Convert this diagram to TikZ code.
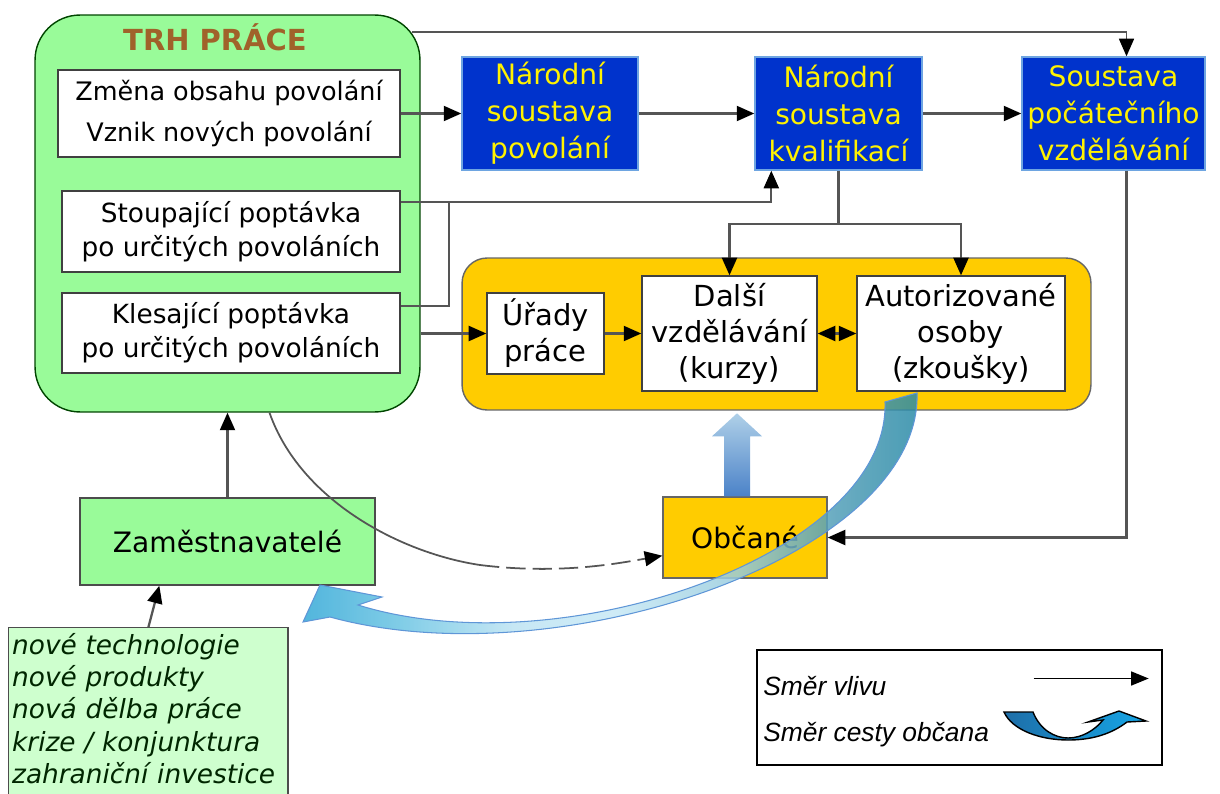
\documentclass[tikz,border=0pt]{standalone}
\usepackage{fontspec}
\setmainfont{DejaVu Sans}
\newfontfamily\legfont{Liberation Sans}
\usetikzlibrary{arrows.meta,calc,positioning}

\definecolor{trhgreen}{RGB}{153,251,153}
\definecolor{palegreen}{RGB}{206,255,206}
\definecolor{narblue}{RGB}{0,51,204}
\definecolor{narborder}{RGB}{110,165,225}
\definecolor{gold}{RGB}{255,204,0}
\definecolor{titlebrown}{RGB}{160,98,42}
\definecolor{linegray}{RGB}{85,85,85}

\pgfdeclarehorizontalshading{citizenpath}{100bp}{
    rgb(0bp)=(0.20,0.66,0.84);
    rgb(25bp)=(0.20,0.66,0.84);
    rgb(33bp)=(0.42,0.77,0.89);
    rgb(42bp)=(0.74,0.89,0.95);
    rgb(50bp)=(0.78,0.91,0.96);
    rgb(60bp)=(0.60,0.80,0.87);
    rgb(68bp)=(0.32,0.62,0.72);
    rgb(75bp)=(0.16,0.54,0.65);
    rgb(100bp)=(0.16,0.54,0.65)}

\begin{document}
\begin{tikzpicture}[x=0.02cm, y=-0.02cm,
    arrowtip/.style={-{Triangle[length=10pt,width=8.5pt,color=black]}},
    conn/.style={draw=linegray, line width=1.3pt, arrowtip},
    whitebox/.style={draw=black!75, fill=white, line width=0.8pt, align=center, inner sep=0pt},
    narbox/.style={draw=narborder, fill=narblue, text=yellow, line width=0.8pt, align=center,
        inner sep=0pt, minimum height=2.26cm, font=\fontsize{16}{21}\selectfont},
    goldbox/.style={draw=black!60, fill=gold, line width=0.8pt, align=center, inner sep=0pt},
    greenbox/.style={draw=black!70, fill=trhgreen, line width=0.8pt, align=center, inner sep=0pt}]
    \useasboundingbox (0,0) rectangle (1220,794);
    \clip (0,0) rectangle (1220,794);

    % trh prace
    \node[greenbox, draw=black!55!green!60!black, rounded corners=0.9cm,
        minimum width=7.7cm, minimum height=7.94cm] (trh) at (227.5,213.5) {};
    \node[text=titlebrown, font=\bfseries\fontsize{16.5}{20}\selectfont] (trhtitle) at (215,37) {TRH PRÁCE};
    \node[whitebox, minimum width=6.84cm, minimum height=1.74cm, font=\fontsize{14.5}{23}\selectfont]
        (zmena) at (229,113.5) {Změna obsahu povolání\\Vznik nových povolání};
    \node[whitebox, minimum width=6.76cm, minimum height=1.62cm, font=\fontsize{15}{19.5}\selectfont]
        (stoup) at (231,231.5) {Stoupající poptávka\\po určitých povoláních};
    \node[whitebox, minimum width=6.76cm, minimum height=1.6cm, font=\fontsize{15}{19.5}\selectfont]
        (kles) at (231,333) {Klesající poptávka\\po určitých povoláních};

    % soustavy
    \node[narbox, minimum width=3.52cm] (povol) at (550,113.5) {Národní\\soustava\\povolání};
    \node[narbox, minimum width=3.34cm] (kval) at (838.5,113.5) {Národní\\soustava\\kvalifikací};
    \node[narbox, minimum width=3.66cm] (souc) at (1113.5,113.5) {Soustava\\počátečního\\vzdělávání};

    % dalsi vzdelavani
    \node[goldbox, rounded corners=0.5cm, minimum width=12.58cm, minimum height=3.04cm]
        (dalsiframe) at (776.5,334) {};
    \node[whitebox, minimum width=2.34cm, minimum height=1.62cm, font=\fontsize{16.5}{20.5}\selectfont]
        (urady) at (545.5,333.5) {Úřady\\práce};
    \node[whitebox, minimum width=3.5cm, minimum height=2.3cm, font=\fontsize{16.5}{20.5}\selectfont]
        (dalsi) at (729.5,333.5) {Další\\vzdělávání\\(kurzy)};
    \node[whitebox, minimum width=4.16cm, minimum height=2.3cm, font=\fontsize{16.5}{20.5}\selectfont]
        (autor) at (961,333.5) {Autorizované\\osoby\\(zkoušky)};

    \node[goldbox, minimum width=3.28cm, minimum height=1.62cm, font=\fontsize{16}{20}\selectfont]
        (obcane) at (745,537.5) {Občané};
    \node[greenbox, minimum width=5.9cm, minimum height=1.74cm, font=\fontsize{16}{20}\selectfont]
        (zames) at (227.5,541.5) {Zaměstnavatelé};
    \node[draw=black!70, fill=palegreen, line width=0.8pt, anchor=north west, align=left,
        text width=5.45cm, inner xsep=2pt, inner ysep=3pt, text depth=95pt, text=black!85!green,
        font=\itshape\fontsize{15}{18.4}\selectfont]
        (vlivy) at (8,627) {nové technologie\\nové produkty\\nová dělba práce\\krize / konjunktura\\zahraniční investice};

    % vazby
    \draw[conn] (zmena.east) -- (povol.west);
    \draw[conn] (povol.east) -- (kval.west);
    \draw[conn] (kval.east) -- (souc.west);
    \draw[conn, line width=1pt] ($(trh.north east)+(-9,18)$) -| ($(souc.north)+(13,0)$);
    \draw[conn] ($(stoup.north east)+(0,12)$) -| ($(kval.south west)+(17,0)$);
    \draw[conn, -] ($(kles.north east)+(0,14)$) -| ($(stoup.north east)+(48,12)$);
    \draw[conn] (trh.east |- urady.west) -- (urady.west);
    \draw[conn] (urady.east) -- (dalsi.west);
    \draw[conn, {Triangle[length=10pt,width=8.5pt,color=black]}-{Triangle[length=10pt,width=8.5pt,color=black]}]
        (dalsi.east) -- (autor.west);
    \draw[conn] (kval.south) -- ++(0,53) -| (dalsi.north);
    \draw[conn] (kval.south) ++(0,53) -| (autor.north);
    \draw[conn] ($(souc.south)+(13,0)$) |- (obcane.east);
    \draw[conn] (zames.north) -- (trh.south);
    \draw[conn] (vlivy.north) -- ($(zames.south west)+(80,0)$);
    \coordinate (dashstart) at (480,565);
    \draw[draw=linegray, line width=1pt] ($(trh.south)+(42,0)$) .. controls (300,500) and (400,553) .. (dashstart);
    \draw[conn, line width=1pt, dash pattern=on 11pt off 4pt]
        (dashstart) .. controls (560,575) and (620,563) .. ($(obcane.south west)+(0,-23)$);

    % sipka nahoru
    \begin{scope}[shift={($(obcane.north)+(-8,0)$)}]
        \path[bottom color={rgb,255:red,75;green,130;blue,200},
              middle color={rgb,255:red,62;green,112;blue,170},
              top color={rgb,255:red,175;green,208;blue,232}]
            (-13,0) -- (-13,-60) -- (-25,-60) -- (0,-83) -- (25,-60) -- (13,-60) -- (13,0) -- cycle;
    \end{scope}

    % cesta obcana
    \path[draw={rgb,255:red,95;green,150;blue,215}, line width=0.6pt, fill opacity=0.85,
          shading=citizenpath]
        (917,393) .. controls (922,555) and (560,680) .. (330,617)
        -- (303,622) -- (320,585) -- (382,597) -- (358,605)
        .. controls (560,668) and (890,555) .. (885,402) -- cycle;

    % legenda
    \node[draw=black, line width=0.8pt, minimum width=8.1cm, minimum height=2.3cm] (legend) at (959.5,707.5) {};
    \node[anchor=base west, inner sep=0pt, font=\legfont\itshape\fontsize{15}{18}\selectfont]
        (legvliv) at (763,695) {Směr vlivu};
    \node[anchor=base west, inner sep=0pt, font=\legfont\itshape\fontsize{15}{18}\selectfont]
        (legcesta) at (763,741) {Směr cesty občana};
    \draw[line width=0.8pt, -{Triangle[length=10pt,width=8pt]}] ($(legend.east)+(-129,-29)$) -- ++(115,0);
    \path[draw=black, line width=0.8pt,
          left color={rgb,255:red,30;green,110;blue,168},
          right color={rgb,255:red,22;green,166;blue,230}]
        (1004,712) -- (1033,712) .. controls (1040,730) and (1055,738) .. (1068,738)
        .. controls (1082,738) and (1095,730) .. (1103,720) -- (1088,722) -- (1119,711)
        -- (1146,721) -- (1127,722) .. controls (1110,735) and (1090,740) .. (1068,740)
        .. controls (1040,740) and (1012,730) .. (1004,712) -- cycle;
\end{tikzpicture}
\end{document}
